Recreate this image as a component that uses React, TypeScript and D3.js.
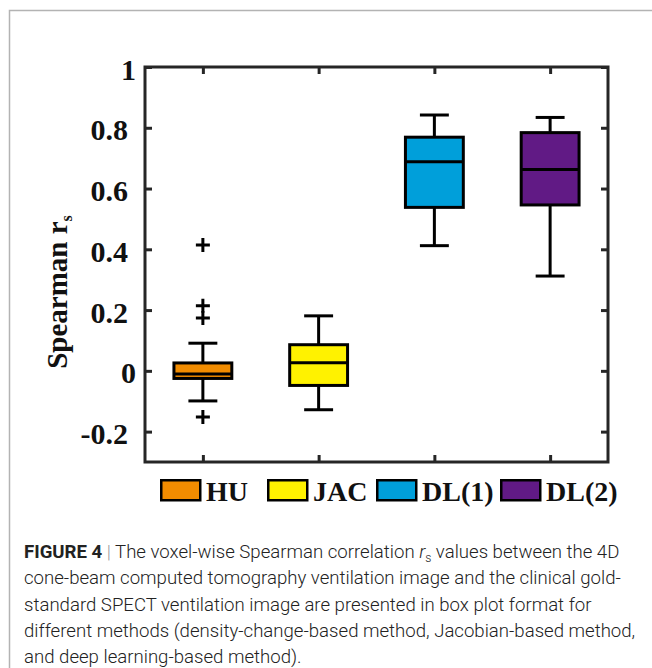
import React, { useRef, useEffect } from 'react'
import * as d3 from 'd3'

// values
const methods = ['HU', 'JAC', 'DL(1)', 'DL(2)']
const boxColors = ['#f28c00', '#fff200', '#009fda', '#611a85']
const whiskerLow = [-0.099, -0.128, 0.412, 0.312]
const q1 = [-0.025, -0.048, 0.538, 0.546]
const medians = [-0.01, 0.027, 0.688, 0.663]
const q3 = [0.026, 0.086, 0.769, 0.784]
const whiskerHigh = [0.091, 0.181, 0.842, 0.834]
const outliers = [[0.414, 0.214, 0.174, -0.152], [], [], []]
const yTicks = [-0.2, 0, 0.2, 0.4, 0.6, 0.8, 1]

const captionLines = [
  'cone-beam computed tomography ventilation image and the clinical gold-',
  'standard SPECT ventilation image are presented in box plot format for',
  'different methods (density-change-based method, Jacobian-based method,',
  'and deep learning-based method).',
]

export default function App() {
  const ref = useRef<SVGSVGElement>(null)

  useEffect(() => {
    const svg = d3.select(ref.current)
    svg.selectAll('*').remove()

    const plot = { left: 145, right: 608, top: 67, bottom: 462 }
    const axisColor = '#262626'
    const serif = '"Liberation Serif", "Times New Roman", serif'

    const x = d3.scaleLinear().domain([0.5, 4.5]).range([plot.left, plot.right])
    const y = d3.scaleLinear().domain([-0.3, 1]).range([plot.bottom, plot.top])
    const step = x(2) - x(1)
    const boxW = step * 0.5
    const capW = step * 0.25

    // outer frame of the figure panel
    svg
      .append('rect')
      .attr('x', 9.5)
      .attr('y', 10.5)
      .attr('width', 700)
      .attr('height', 700)
      .attr('fill', 'none')
      .attr('stroke', '#b3b3b3')
      .attr('stroke-width', 1.5)

    const styleAxis = (g) => {
      g.select('.domain').remove()
      g.selectAll('.tick line').attr('stroke', axisColor).attr('stroke-width', 3)
      g.attr('font-family', serif).attr('font-size', 30).attr('font-weight', 'bold')
      g.selectAll('.tick text').attr('fill', '#111')
    }

    svg
      .append('g')
      .attr('transform', `translate(${plot.left},0)`)
      .call(d3.axisLeft(y).tickValues(yTicks).tickSize(-7).tickPadding(17).tickFormat((d) => `${d}`))
      .call(styleAxis)
      .call((g) =>
        g
          .selectAll('.tick text')
          .attr('dx', (d) => (Number.isInteger(d) ? 8 : 0))
          .attr('dy', '0.4em')
      )

    svg
      .append('g')
      .attr('transform', `translate(${plot.right},0)`)
      .call(d3.axisRight(y).tickValues(yTicks).tickSize(-7).tickFormat(() => ''))
      .call(styleAxis)

    svg
      .append('g')
      .attr('transform', `translate(0,${plot.top})`)
      .call(d3.axisTop(x).tickValues([1, 2, 3, 4]).tickSize(-7).tickFormat(() => ''))
      .call(styleAxis)

    svg
      .append('g')
      .attr('transform', `translate(0,${plot.bottom})`)
      .call(d3.axisBottom(x).tickValues([1, 2, 3, 4]).tickSize(-7).tickFormat(() => ''))
      .call(styleAxis)

    svg
      .append('rect')
      .attr('x', plot.left)
      .attr('y', plot.top)
      .attr('width', plot.right - plot.left)
      .attr('height', plot.bottom - plot.top)
      .attr('fill', 'none')
      .attr('stroke', axisColor)
      .attr('stroke-width', 3)

    // boxes
    const boxes = svg
      .append('g')
      .selectAll('g')
      .data(methods)
      .join('g')
      .attr('stroke', '#000')
      .attr('stroke-width', 3)

    boxes.each(function (_, i) {
      const g = d3.select(this)
      const cx = x(i + 1)
      g.append('line').attr('x1', cx).attr('x2', cx).attr('y1', y(whiskerLow[i])).attr('y2', y(q1[i]))
      g.append('line').attr('x1', cx).attr('x2', cx).attr('y1', y(q3[i])).attr('y2', y(whiskerHigh[i]))
      ;[whiskerLow[i], whiskerHigh[i]].forEach((v) => {
        g.append('line')
          .attr('x1', cx - capW / 2)
          .attr('x2', cx + capW / 2)
          .attr('y1', y(v))
          .attr('y2', y(v))
      })
      g.append('rect')
        .attr('x', cx - boxW / 2)
        .attr('y', y(q3[i]))
        .attr('width', boxW)
        .attr('height', y(q1[i]) - y(q3[i]))
        .attr('fill', boxColors[i])
      g.append('line')
        .attr('x1', cx - boxW / 2)
        .attr('x2', cx + boxW / 2)
        .attr('y1', y(medians[i]))
        .attr('y2', y(medians[i]))
      outliers[i].forEach((v) => {
        g.append('path')
          .attr('transform', `translate(${cx},${y(v)})`)
          .attr('d', 'M-7,0H7M0,-7V7')
      })
    })

    // y label
    const ylab = svg
      .append('text')
      .attr('transform', `translate(67,292) rotate(-90)`)
      .attr('text-anchor', 'middle')
      .attr('font-family', serif)
      .attr('font-weight', 'bold')
      .attr('font-size', 29)
      .attr('fill', '#111')
    ylab.append('tspan').text('Spearman r')
    ylab.append('tspan').attr('font-size', 16).attr('dy', 5).text('s')

    // legend
    const legendX = [160, 267, 376, 500]
    const legend = svg
      .append('g')
      .selectAll('g')
      .data(methods)
      .join('g')
      .attr('transform', (_, i) => `translate(${legendX[i]},479)`)
    legend
      .append('rect')
      .attr('x', 1.25)
      .attr('y', 1.25)
      .attr('width', 39)
      .attr('height', 20)
      .attr('fill', (_, i) => boxColors[i])
      .attr('stroke', '#000')
      .attr('stroke-width', 2.5)
    legend
      .append('text')
      .attr('x', 46)
      .attr('y', 22)
      .attr('font-family', serif)
      .attr('font-weight', 'bold')
      .attr('font-size', 28)
      .attr('fill', '#111')
      .text((d) => d)

    // caption
    const cap = svg
      .append('g')
      .attr('font-family', 'Roboto, "Liberation Sans", sans-serif')
      .attr('font-weight', 300)
      .attr('font-size', 18.6)
      .attr('fill', '#222')
    const first = cap.append('text').attr('x', 24).attr('y', 558)
    first.append('tspan').attr('font-weight', 700).text('FIGURE 4')
    first.append('tspan').attr('fill', '#999').text(' | ')
    first.append('tspan').text('The voxel-wise Spearman correlation ')
    first.append('tspan').attr('font-style', 'italic').text('r')
    first.append('tspan').attr('font-size', 12).attr('dy', 4).text('s')
    first.append('tspan').attr('dy', -4).text(' values between the 4D')
    cap
      .selectAll('text.line')
      .data(captionLines)
      .join('text')
      .attr('class', 'line')
      .attr('x', 24)
      .attr('y', (_, i) => 558 + (i + 1) * 26.3)
      .text((d) => d)
  }, [])

  return (
    <svg
      ref={ref}
      width={652}
      height={668}
      style={{ position: 'absolute', left: 0, top: 0, background: '#fff' }}
    ></svg>
  )
}
